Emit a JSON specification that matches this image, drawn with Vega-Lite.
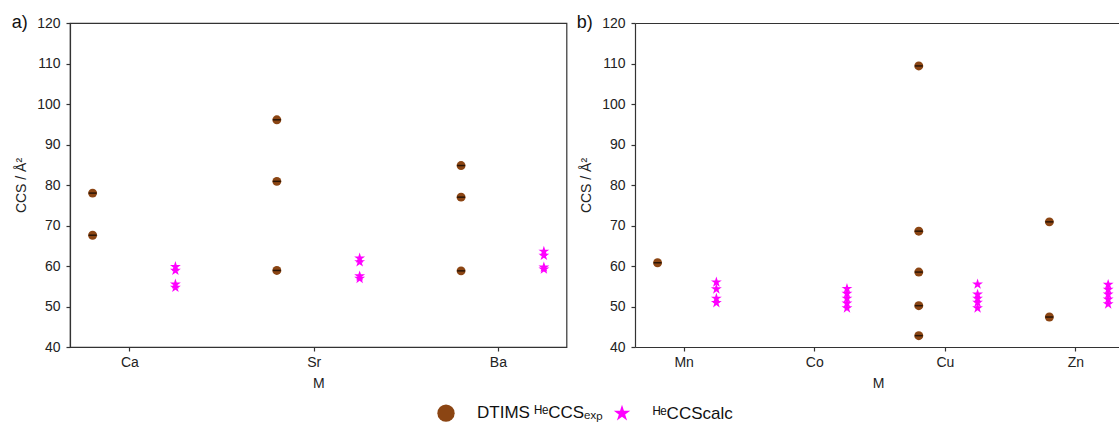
{
  "$schema": "https://vega.github.io/schema/vega-lite/v6.json",
  "padding": {"left": 11, "top": 13, "right": 0, "bottom": 0},
  "config": {
    "font": "Liberation Sans",
    "view": {"stroke": "#333333", "strokeWidth": 1.2},
    "axis": {
      "grid": false,
      "domainColor": "#333333",
      "domainWidth": 1.2,
      "tickColor": "#333333",
      "tickWidth": 1.2,
      "tickSize": 4,
      "labelColor": "#222222",
      "titleColor": "#222222",
      "labelFontSize": 14,
      "titleFontSize": 14,
      "titleFontWeight": "normal"
    },
    "legend": {"title": null, "orient": "none", "legendX": 367, "legendY": 381, "direction": "horizontal", "padding": 0,
               "symbolSize": 300, "symbolStrokeWidth": 0, "labelFontSize": 17, "labelColor": "#111111",
               "labelOffset": 22, "columnPadding": 10, "labelLimit": 300},
    "title": {"fontWeight": "normal", "color": "#111111"}
  },
  "datasets": {
    "alkaline": [
      {"M": "Ca", "series": "DTIMS ᴴᵉCCSₑₓₚ", "ccs": 78.0},
      {"M": "Ca", "series": "DTIMS ᴴᵉCCSₑₓₚ", "ccs": 67.6},
      {"M": "Sr", "series": "DTIMS ᴴᵉCCSₑₓₚ", "ccs": 96.1},
      {"M": "Sr", "series": "DTIMS ᴴᵉCCSₑₓₚ", "ccs": 80.9},
      {"M": "Sr", "series": "DTIMS ᴴᵉCCSₑₓₚ", "ccs": 58.9},
      {"M": "Ba", "series": "DTIMS ᴴᵉCCSₑₓₚ", "ccs": 84.8},
      {"M": "Ba", "series": "DTIMS ᴴᵉCCSₑₓₚ", "ccs": 77.0},
      {"M": "Ba", "series": "DTIMS ᴴᵉCCSₑₓₚ", "ccs": 58.8},
      {"M": "Ca", "series": "ᴴᵉCCScalc", "ccs": 59.8},
      {"M": "Ca", "series": "ᴴᵉCCScalc", "ccs": 58.9},
      {"M": "Ca", "series": "ᴴᵉCCScalc", "ccs": 55.5},
      {"M": "Ca", "series": "ᴴᵉCCScalc", "ccs": 54.7},
      {"M": "Sr", "series": "ᴴᵉCCScalc", "ccs": 61.9},
      {"M": "Sr", "series": "ᴴᵉCCScalc", "ccs": 61.0},
      {"M": "Sr", "series": "ᴴᵉCCScalc", "ccs": 57.5},
      {"M": "Sr", "series": "ᴴᵉCCScalc", "ccs": 56.9},
      {"M": "Ba", "series": "ᴴᵉCCScalc", "ccs": 63.6},
      {"M": "Ba", "series": "ᴴᵉCCScalc", "ccs": 62.6},
      {"M": "Ba", "series": "ᴴᵉCCScalc", "ccs": 59.7},
      {"M": "Ba", "series": "ᴴᵉCCScalc", "ccs": 59.2}
    ],
    "transition": [
      {"M": "Mn", "series": "DTIMS ᴴᵉCCSₑₓₚ", "ccs": 60.8},
      {"M": "Cu", "series": "DTIMS ᴴᵉCCSₑₓₚ", "ccs": 109.4},
      {"M": "Cu", "series": "DTIMS ᴴᵉCCSₑₓₚ", "ccs": 68.6},
      {"M": "Cu", "series": "DTIMS ᴴᵉCCSₑₓₚ", "ccs": 58.5},
      {"M": "Cu", "series": "DTIMS ᴴᵉCCSₑₓₚ", "ccs": 50.2},
      {"M": "Cu", "series": "DTIMS ᴴᵉCCSₑₓₚ", "ccs": 42.8},
      {"M": "Zn", "series": "DTIMS ᴴᵉCCSₑₓₚ", "ccs": 70.9},
      {"M": "Zn", "series": "DTIMS ᴴᵉCCSₑₓₚ", "ccs": 47.4},
      {"M": "Mn", "series": "ᴴᵉCCScalc", "ccs": 56.0},
      {"M": "Mn", "series": "ᴴᵉCCScalc", "ccs": 54.3},
      {"M": "Mn", "series": "ᴴᵉCCScalc", "ccs": 52.0},
      {"M": "Mn", "series": "ᴴᵉCCScalc", "ccs": 50.9},
      {"M": "Co", "series": "ᴴᵉCCScalc", "ccs": 54.4},
      {"M": "Co", "series": "ᴴᵉCCScalc", "ccs": 53.2},
      {"M": "Co", "series": "ᴴᵉCCScalc", "ccs": 52.0},
      {"M": "Co", "series": "ᴴᵉCCScalc", "ccs": 50.8},
      {"M": "Co", "series": "ᴴᵉCCScalc", "ccs": 49.6},
      {"M": "Cu", "series": "ᴴᵉCCScalc", "ccs": 55.5},
      {"M": "Cu", "series": "ᴴᵉCCScalc", "ccs": 53.0},
      {"M": "Cu", "series": "ᴴᵉCCScalc", "ccs": 52.0},
      {"M": "Cu", "series": "ᴴᵉCCScalc", "ccs": 51.0},
      {"M": "Cu", "series": "ᴴᵉCCScalc", "ccs": 49.6},
      {"M": "Zn", "series": "ᴴᵉCCScalc", "ccs": 55.4},
      {"M": "Zn", "series": "ᴴᵉCCScalc", "ccs": 54.2},
      {"M": "Zn", "series": "ᴴᵉCCScalc", "ccs": 53.0},
      {"M": "Zn", "series": "ᴴᵉCCScalc", "ccs": 51.8},
      {"M": "Zn", "series": "ᴴᵉCCScalc", "ccs": 50.6}
    ]
  },
  "spacing": 8,
  "hconcat": [
    {
      "width": 496.5,
      "height": 324,
      "title": {"text": "a)", "anchor": "start", "frame": "bounds", "fontSize": 18, "dx": -3, "dy": 16, "offset": 0},
      "data": {"name": "alkaline"},
      "encoding": {
        "x": {"field": "M", "type": "nominal", "sort": null,
              "scale": {"type": "point", "domain": ["Ca", "Sr", "Ba"], "padding": 0.3475, "align": 0.464},
              "axis": {"title": "M", "labelAngle": 0, "labelPadding": 4, "titlePadding": 7}},
        "y": {"field": "ccs", "type": "quantitative",
              "scale": {"domain": [40, 120], "nice": false, "zero": false},
              "axis": {"title": "CCS / Å²", "values": [40, 50, 60, 70, 80, 90, 100, 110, 120], "labelPadding": 6, "titlePadding": 8}},
        "color": {"field": "series", "type": "nominal", "scale": {"domain": ["DTIMS ᴴᵉCCSₑₓₚ", "ᴴᵉCCScalc"], "range": ["#8B4513", "#FF00FF"]}},
        "shape": {"field": "series", "type": "nominal", "scale": {"domain": ["DTIMS ᴴᵉCCSₑₓₚ", "ᴴᵉCCScalc"], "range": ["circle", "M0,-1L0.2245,-0.309L0.9511,-0.309L0.3633,0.118L0.5878,0.809L0,0.382L-0.5878,0.809L-0.3633,0.118L-0.9511,-0.309L-0.2245,-0.309Z"]}}
      },
      "layer": [
        {
          "transform": [{"filter": {"field": "series", "equal": "DTIMS ᴴᵉCCSₑₓₚ"}}],
          "mark": {"type": "point", "filled": true, "size": 80, "opacity": 1, "xOffset": -36.8}
        },
        {
          "transform": [{"filter": {"field": "series", "equal": "DTIMS ᴴᵉCCSₑₓₚ"}}],
          "mark": {"type": "tick", "orient": "horizontal", "size": 8, "thickness": 1.5, "xOffset": -36.8},
          "encoding": {"color": {"value": "#000000"}, "shape": null}
        },
        {
          "transform": [{"filter": {"field": "series", "equal": "ᴴᵉCCScalc"}}],
          "mark": {"type": "point", "filled": true, "size": 130, "opacity": 1, "xOffset": 46}
        }
      ]
    },
    {
      "width": 486.3,
      "height": 324,
      "view": {"stroke": null},
      "title": {"text": "b)", "anchor": "start", "frame": "bounds", "fontSize": 18, "dx": -3, "dy": 16, "offset": 0},
      "data": {"name": "transition"},
      "resolve": {"axis": {"x": "independent"}},
      "encoding": {
        "y": {"field": "ccs", "type": "quantitative",
              "scale": {"domain": [40, 120], "nice": false, "zero": false},
              "axis": {"title": "CCS / Å²", "values": [40, 50, 60, 70, 80, 90, 100, 110, 120], "labelPadding": 6, "titlePadding": 8}},
        "color": {"field": "series", "type": "nominal", "scale": {"domain": ["DTIMS ᴴᵉCCSₑₓₚ", "ᴴᵉCCScalc"], "range": ["#8B4513", "#FF00FF"]}},
        "shape": {"field": "series", "type": "nominal", "scale": {"domain": ["DTIMS ᴴᵉCCSₑₓₚ", "ᴴᵉCCScalc"], "range": ["circle", "M0,-1L0.2245,-0.309L0.9511,-0.309L0.3633,0.118L0.5878,0.809L0,0.382L-0.5878,0.809L-0.3633,0.118L-0.9511,-0.309L-0.2245,-0.309Z"]}}
      },
      "layer": [
        {
          "transform": [{"filter": {"field": "series", "equal": "DTIMS ᴴᵉCCSₑₓₚ"}}],
          "mark": {"type": "point", "filled": true, "size": 80, "opacity": 1, "xOffset": -26.1},
          "encoding": {
            "x": {"field": "M", "type": "nominal", "sort": null,
                  "scale": {"type": "point", "domain": ["Mn", "Co", "Cu", "Zn"], "padding": 0.3618, "align": 0.515},
                  "axis": {"title": "M", "labelAngle": 0, "labelPadding": 4, "titlePadding": 7}}
          }
        },
        {
          "transform": [{"filter": {"field": "series", "equal": "DTIMS ᴴᵉCCSₑₓₚ"}}],
          "mark": {"type": "tick", "orient": "horizontal", "size": 8, "thickness": 1.5, "xOffset": -26.1},
          "encoding": {
            "x": {"field": "M", "type": "nominal", "sort": null, "axis": null},
            "color": {"value": "#000000"},
            "shape": null
          }
        },
        {
          "transform": [{"filter": {"field": "series", "equal": "ᴴᵉCCScalc"}}],
          "mark": {"type": "point", "filled": true, "size": 130, "opacity": 1, "xOffset": 32.7},
          "encoding": {
            "x": {"field": "M", "type": "nominal", "sort": null,
                  "axis": {"orient": "top", "title": null, "labels": false, "ticks": false, "domain": true}}
          }
        }
      ]
    }
  ]
}
